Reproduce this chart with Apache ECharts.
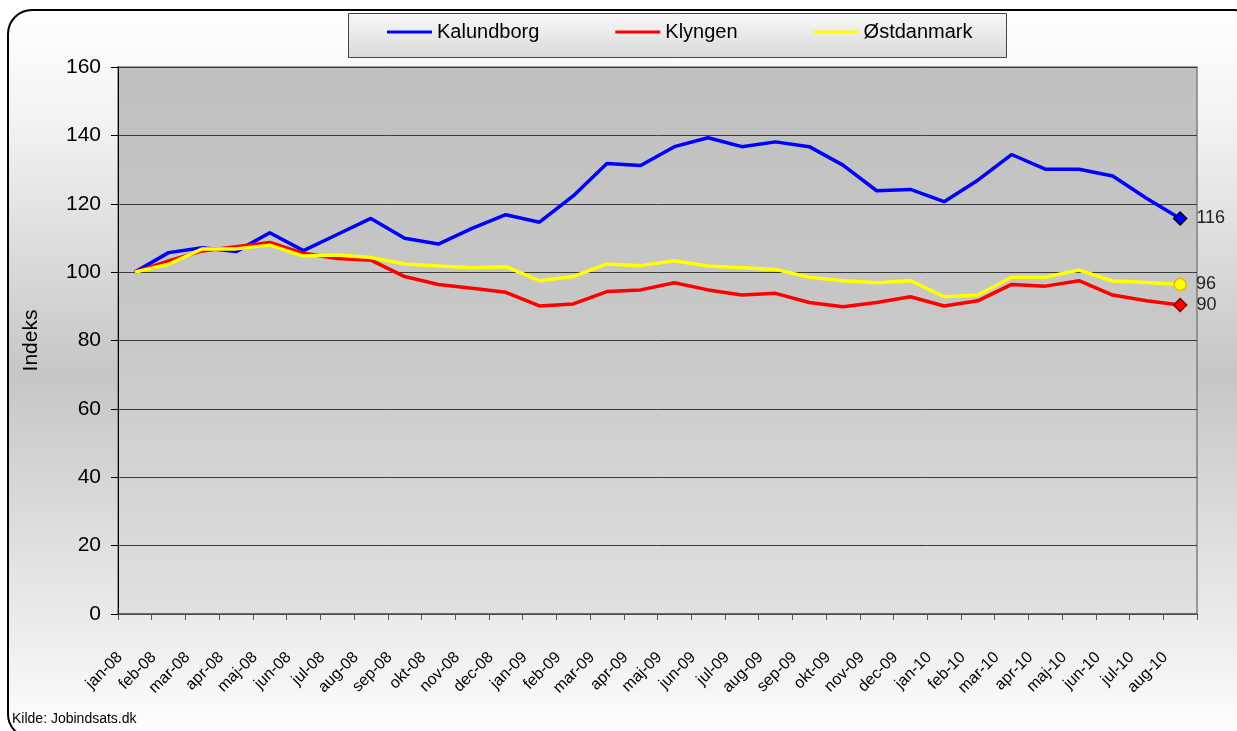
<!DOCTYPE html>
<html>
<head>
<meta charset="utf-8">
<script src="https://cdn.jsdelivr.net/npm/echarts@6/dist/echarts.min.js"></script>
<style>
	html, body { margin: 0; padding: 0; background: #fff; }
	#chart { width: 1237px; height: 731px; }
</style>
</head>
<body>
<div id="chart"></div>
<script>
// maaneder jan-08 .. aug-10
var months = ['jan-08','feb-08','mar-08','apr-08','maj-08','jun-08','jul-08','aug-08','sep-08','okt-08','nov-08','dec-08',
	'jan-09','feb-09','mar-09','apr-09','maj-09','jun-09','jul-09','aug-09','sep-09','okt-09','nov-09','dec-09',
	'jan-10','feb-10','mar-10','apr-10','maj-10','jun-10','jul-10','aug-10'];

var kalundborg = [100, 105.7, 107.1, 106.0, 111.5, 106.3, 111.0, 115.7, 109.9, 108.2, 112.8, 116.8,
	114.6, 122.3, 131.8, 131.2, 136.7, 139.3, 136.7, 138.1, 136.7, 131.3, 123.8, 124.2,
	120.6, 126.9, 134.4, 130.1, 130.1, 128.1, 121.6, 115.7];

var klyngen = [100, 103.3, 106.2, 107.4, 108.7, 105.5, 104.0, 103.5, 98.7, 96.4, 95.3, 94.1,
	90.1, 90.7, 94.3, 94.8, 96.9, 94.8, 93.3, 93.8, 91.1, 89.9, 91.1, 92.8,
	90.1, 91.6, 96.4, 95.9, 97.5, 93.3, 91.6, 90.4];

var ostdanmark = [100, 102.3, 106.8, 106.8, 107.9, 104.7, 105.0, 104.3, 102.4, 101.8, 101.3, 101.6,
	97.5, 98.7, 102.4, 101.9, 103.3, 101.8, 101.3, 100.8, 98.5, 97.5, 96.9, 97.5,
	92.8, 93.3, 98.5, 98.5, 100.6, 97.4, 97.0, 96.4];

var yTicks = [0, 20, 40, 60, 80, 100, 120, 140, 160];

var font = 'Liberation Sans, Arial, sans-serif';

// kun sidste punkt faar markoer og tal
function lastMarked(arr, sym, fill, border) {
	var last = arr.length - 1;
	return arr.map(function (v, i) {
		if (i !== last) return v;
		return {
			value: v,
			symbol: sym,
			symbolSize: sym === 'circle' ? 12 : 13,
			itemStyle: { color: fill, borderColor: border, borderWidth: 1.5 },
			label: {
				show: true, position: 'right', distance: 9,
				formatter: function (p) { return Math.round(p.value); },
				fontFamily: font, fontSize: 18, color: '#222'
			}
		};
	});
}

function lineSeries(name, data, color, sym, border) {
	return {
		name: name,
		type: 'line',
		data: lastMarked(data, sym, color, border),
		symbol: 'none',
		showSymbol: true,
		animation: false,
		lineStyle: { color: color, width: 3.5 },
		itemStyle: { color: color },
		emphasis: { disabled: true }
	};
}

var chart = echarts.init(document.getElementById('chart'));
var option = {
	backgroundColor: '#ffffff',
	animation: false,
	textStyle: { fontFamily: font },
	graphic: [
		{
			type: 'rect', z: -10, silent: true,
			shape: { x: 8, y: 10, width: 1250, height: 728, r: 24 },
			style: {
				fill: new echarts.graphic.LinearGradient(0, 0, 0, 1, [
					{ offset: 0, color: '#ffffff' },
					{ offset: 0.15, color: '#f3f3f3' },
					{ offset: 0.5, color: '#c6c6c6' },
					{ offset: 0.85, color: '#ececec' },
					{ offset: 1, color: '#ffffff' }
				]),
				stroke: '#000', lineWidth: 2
			}
		},
		{
			type: 'rect', z: 5, silent: true,
			shape: { x: 348.5, y: 13.5, width: 658, height: 44 },
			style: {
				fill: new echarts.graphic.LinearGradient(0, 0, 0, 1, [
					{ offset: 0, color: '#f8f8f8' },
					{ offset: 1, color: '#d9d9d9' }
				]),
				stroke: '#444', lineWidth: 1
			}
		},
		{
			type: 'text', left: 12, top: 712, z: 5, silent: true,
			style: { text: 'Kilde: Jobindsats.dk', fontFamily: font, fontSize: 14, fill: '#000' }
		}
	],
	legend: {
		z: 10,
		left: 387,
		top: 22,
		padding: 0,
		icon: 'rect',
		itemWidth: 45,
		itemHeight: 3,
		itemGap: 76,
		selectedMode: false,
		textStyle: { fontFamily: font, fontSize: 20, color: '#000' },
		data: ['Kalundborg', 'Klyngen', 'Østdanmark']
	},
	grid: {
		left: 118, right: 40, top: 67, bottom: 117,
		show: true,
		borderColor: '#808080',
		borderWidth: 1.5,
		backgroundColor: new echarts.graphic.LinearGradient(0, 0, 0, 1, [
			{ offset: 0, color: '#c0c0c0' },
			{ offset: 0.5, color: '#c8c8c8' },
			{ offset: 1, color: '#e0e0e0' }
		])
	},
	xAxis: {
		type: 'category',
		data: months,
		boundaryGap: true,
		axisLine: { lineStyle: { color: '#555', width: 1.5 } },
		axisTick: { show: true, alignWithLabel: false, length: 6, lineStyle: { color: '#555' } },
		axisLabel: {
			interval: 0, rotate: 45, margin: 26,
			padding: [0, 21, 0, 0],
			fontFamily: font, fontSize: 16, color: '#000'
		},
		splitLine: { show: false }
	},
	yAxis: {
		type: 'value',
		min: yTicks[0],
		max: yTicks[yTicks.length - 1],
		interval: 20,
		name: 'Indeks',
		nameLocation: 'middle',
		nameRotate: 90,
		nameGap: 76,
		nameTextStyle: { fontFamily: font, fontSize: 21, color: '#000' },
		axisLine: { show: true, lineStyle: { color: '#000', width: 1 } },
		axisTick: { show: true, length: 7, lineStyle: { color: '#000' } },
		axisLabel: { margin: 17, fontFamily: font, fontSize: 21, color: '#000' },
		splitLine: { show: true, lineStyle: { color: '#3a3a3a', width: 1 } }
	},
	series: [
		lineSeries('Kalundborg', kalundborg, '#0000ff', 'diamond', '#000033'),
		lineSeries('Klyngen', klyngen, '#ff0000', 'diamond', '#800000'),
		lineSeries('Østdanmark', ostdanmark, '#ffff00', 'circle', '#f0b400')
	]
};
chart.setOption(option);
</script>
</body>
</html>
